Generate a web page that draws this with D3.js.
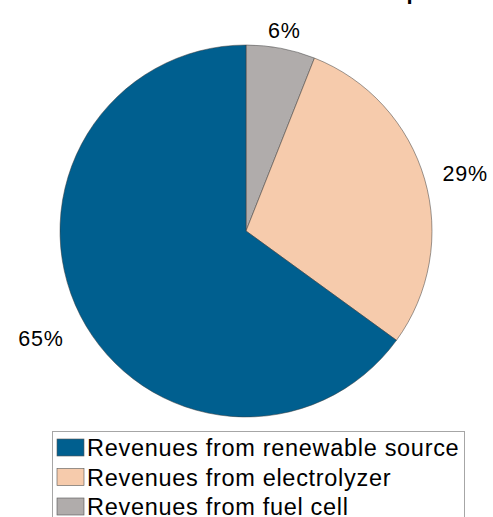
<!DOCTYPE html>
<html>
<head>
<meta charset="utf-8">
<script src="https://cdn.jsdelivr.net/npm/d3@7"></script>
<style>
  body { margin: 0; background: #fff; }
  text { font-family: "Liberation Sans", Arial, Helvetica, sans-serif; }
</style>
</head>
<body>
<svg id="chart" width="493" height="517"></svg>
<script>
// slices in drawing order, clockwise from 12 o'clock
const categories = ['Revenues from fuel cell', 'Revenues from electrolyzer', 'Revenues from renewable source']
const shares = [6, 29, 65]
const sliceColors = ['#b0acab', '#f6cbac', '#005f8f']
// legend lists them the other way round
const legendOrder = ['Revenues from renewable source', 'Revenues from electrolyzer', 'Revenues from fuel cell']

const svg = d3.select('#chart')
const cx = 246, cy = 231, R = 186

const color = d3.scaleOrdinal().domain(categories).range(sliceColors)

const pie = d3.pie().sort(null).value(d => d.v)
const arcs = pie(categories.map((c, i) => ({ c, v: shares[i] })))
const arc = d3.arc().innerRadius(0).outerRadius(R)

// title sits mostly above the visible area
svg.append('text')
  .attr('x', 420).attr('y', -1.5)
  .attr('text-anchor', 'end')
  .attr('font-weight', 'bold')
  .attr('font-size', 22)
  .text('Revenue shares of the setup')

const g = svg.append('g').attr('transform', `translate(${cx},${cy})`)

g.selectAll('path')
  .data(arcs)
  .enter()
  .append('path')
  .attr('d', arc)
  .attr('fill', d => color(d.data.c))
  .attr('stroke', '#3a3a3a')
  .attr('stroke-width', 0.5)

// percent labels at 1.1 R, placed like matlab pie
const total = d3.sum(shares)
g.selectAll('text.pct')
  .data(arcs)
  .enter()
  .append('text')
  .attr('class', 'pct')
  .each(function (d) {
    const a = (d.startAngle + d.endAngle) / 2
    const s = Math.sin(a), c = Math.cos(a)
    const t = d3.select(this)
    t.attr('x', 1.1 * R * s).attr('y', -1.1 * R * c)
    t.attr('text-anchor', Math.abs(s) < 0.3 ? 'middle' : (s > 0 ? 'start' : 'end'))
    t.attr('dy', c < -0.3 ? '1.05em' : '0.35em')
  })
  .attr('font-size', 21.5)
  .attr('letter-spacing', 0.8)
  .text(d => Math.round(d.data.v / total * 100) + '%')

// legend
const lg = svg.append('g').attr('transform', 'translate(52,431)')
lg.append('rect')
  .attr('x', 0.5).attr('y', 0.5)
  .attr('width', 412).attr('height', 100)
  .attr('fill', '#fff')
  .attr('stroke', '#a6a6a6')
  .attr('stroke-width', 1)

const rowY = d3.scalePoint().domain(legendOrder).range([17, 76])

const item = lg.selectAll('g.item')
  .data(legendOrder)
  .enter()
  .append('g')
  .attr('transform', d => `translate(0,${rowY(d)})`)

item.append('rect')
  .attr('x', 5).attr('y', -9)
  .attr('width', 27).attr('height', 17)
  .attr('fill', d => color(d))
  .attr('stroke', '#555')
  .attr('stroke-width', 0.6)

item.append('text')
  .attr('x', 35).attr('y', 0)
  .attr('dy', '0.36em')
  .attr('font-size', 23.5)
  .attr('letter-spacing', 0.7)
  .text(d => d)
</script>
</body>
</html>
